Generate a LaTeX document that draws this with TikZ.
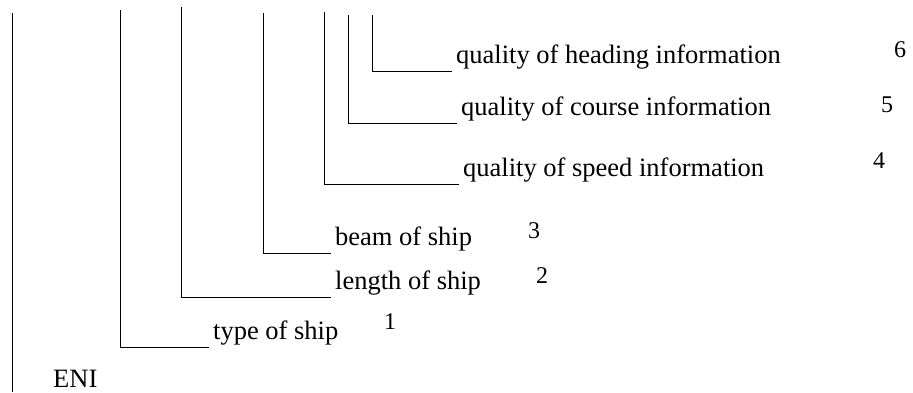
\documentclass[tikz,border=0pt]{standalone}
\usepackage{fontspec}
\setmainfont{Liberation Serif}

\tikzset{
    field/.style={anchor=south west, inner xsep=4pt, inner ysep=1.5pt, font=\fontsize{26.5}{30}\selectfont},
    fieldno/.style={anchor=base, inner sep=0pt, font=\fontsize{24}{28}\selectfont},
    bracket/.style={line width=0.8pt},
}

\begin{document}
\begin{tikzpicture}[x=1pt, y=-1pt]
    \useasboundingbox (0,0) rectangle (913,392);

    \node[field] (heading) at (452,71) {quality of heading information};
    \node[field] (course) at (457,123) {quality of course information};
    \node[field] (speed) at (459,184) {quality of speed information};
    \node[field] (beam) at (331,253) {beam of ship};
    \node[field] (length) at (331,297) {length of ship};
    \node[field] (type) at (209,347) {type of ship};

    \node[fieldno] (no6) at (900,57) {6};
    \node[fieldno] (no5) at (887,112) {5};
    \node[fieldno] (no4) at (879,168) {4};
    \node[fieldno] (no3) at (534,238) {3};
    \node[fieldno] (no2) at (542,283) {2};
    \node[fieldno] (no1) at (390,329) {1};

    \node[anchor=base west, inner sep=0pt, font=\fontsize{26.5}{30}\selectfont] (eni) at (53,387) {ENI};

    \coordinate (spine top) at (12.5,13);
    \coordinate (spine end) at (12.5,392);
    \coordinate (heading top) at (372,15);
    \coordinate (course top) at (348.5,15);
    \coordinate (speed top) at (324.5,12);
    \coordinate (beam top) at (263.5,13);
    \coordinate (length top) at (181,7);
    \coordinate (type top) at (120,10);

    \draw[bracket] (spine top) -- (spine end);
    \draw[bracket] (heading top) |- (heading.south west);
    \draw[bracket] (course top) |- (course.south west);
    \draw[bracket] (speed top) |- (speed.south west);
    \draw[bracket] (beam top) |- (beam.south west);
    \draw[bracket] (length top) |- (length.south west);
    \draw[bracket] (type top) |- (type.south west);
\end{tikzpicture}
\end{document}
